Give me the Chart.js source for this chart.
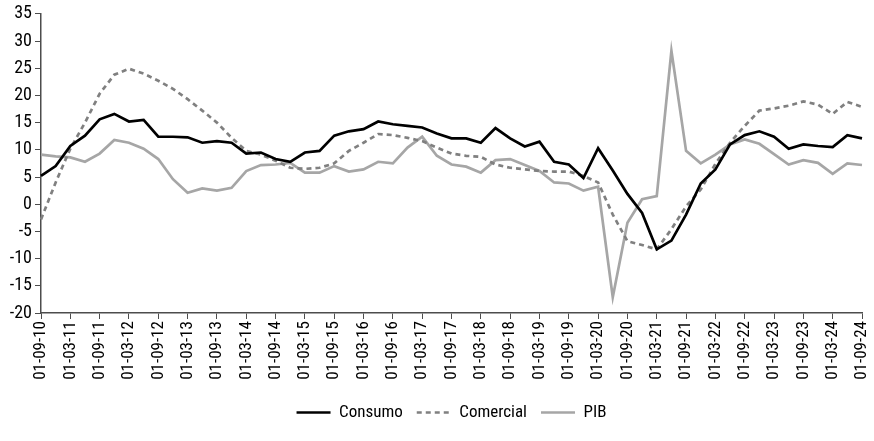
<!DOCTYPE html>
<html>
<head>
<meta charset="utf-8">
<script src="https://cdn.jsdelivr.net/npm/chart.js@4.4.1/dist/chart.umd.min.js"></script>
<style>
  html, body { margin: 0; padding: 0; background: #fff; }
  #wrap { width: 874px; height: 441px; }
</style>
</head>
<body>
<div id="wrap"><canvas id="grafico"></canvas></div>
<script>
// Trimestres (dd-mm-aa)
const fechas = [
  '01-09-10','01-12-10',
  '01-03-11','01-06-11','01-09-11','01-12-11',
  '01-03-12','01-06-12','01-09-12','01-12-12',
  '01-03-13','01-06-13','01-09-13','01-12-13',
  '01-03-14','01-06-14','01-09-14','01-12-14',
  '01-03-15','01-06-15','01-09-15','01-12-15',
  '01-03-16','01-06-16','01-09-16','01-12-16',
  '01-03-17','01-06-17','01-09-17','01-12-17',
  '01-03-18','01-06-18','01-09-18','01-12-18',
  '01-03-19','01-06-19','01-09-19','01-12-19',
  '01-03-20','01-06-20','01-09-20','01-12-20',
  '01-03-21','01-06-21','01-09-21','01-12-21',
  '01-03-22','01-06-22','01-09-22','01-12-22',
  '01-03-23','01-06-23','01-09-23','01-12-23',
  '01-03-24','01-06-24','01-09-24'
];

// Variación anual (%)
const consumo = [
  5.2, 7.0, 10.7, 12.6, 15.6, 16.6, 15.2, 15.5, 12.4, 12.4,
  12.3, 11.3, 11.6, 11.3, 9.3, 9.5, 8.3, 7.8, 9.5, 9.8,
  12.6, 13.4, 13.8, 15.2, 14.7, 14.4, 14.1, 13.0, 12.1, 12.1,
  11.3, 14.0, 12.1, 10.6, 11.5, 7.8, 7.3, 4.8, 10.3, 6.2,
  1.9, -1.6, -8.3, -6.7, -1.9, 3.8, 6.4, 11.0, 12.7, 13.4,
  12.4, 10.2, 11.0, 10.7, 10.5, 12.7, 12.1
];
const comercial = [
  -2.8, 4.0, 10.2, 15.0, 20.3, 23.8, 24.9, 24.0, 22.7, 21.2,
  19.3, 17.2, 15.0, 12.2, 9.8, 9.1, 8.0, 6.7, 6.5, 6.7,
  7.5, 9.8, 11.3, 12.9, 12.7, 12.2, 11.6, 10.4, 9.3, 8.9,
  8.7, 7.3, 6.7, 6.4, 6.1, 6.0, 6.0, 5.2, 4.0, -1.9,
  -6.8, -7.5, -8.3, -4.6, -0.4, 2.7, 7.4, 11.3, 14.4, 17.2,
  17.6, 18.1, 18.9, 18.3, 16.6, 18.8, 17.9
];
const pib = [
  9.1, 8.8, 8.6, 7.8, 9.3, 11.8, 11.3, 10.2, 8.3, 4.6,
  2.1, 2.9, 2.5, 3.0, 6.1, 7.2, 7.3, 7.6, 5.8, 5.8,
  7.0, 6.0, 6.4, 7.8, 7.5, 10.4, 12.4, 8.9, 7.3, 6.9,
  5.8, 8.1, 8.3, 7.2, 6.1, 4.0, 3.8, 2.5, 3.2, -17.1,
  -3.4, 0.9, 1.5, 28.2, 9.8, 7.5, 9.1, 11.0, 11.9, 11.1,
  9.2, 7.3, 8.1, 7.6, 5.6, 7.5, 7.2
];

// "condensed" entra en la cadena de fuente como font-stretch
const fuente = "'Roboto Condensed', 'Open Sans Condensed', Roboto, sans-serif";
const estrecha = 'condensed';
const colorEje = '#4d4d4d';
const grosor = 2.7;

// la leyenda va centrada bajo el área del gráfico, no bajo todo el lienzo
const centrarLeyenda = {
  id: 'centrarLeyenda',
  afterLayout(chart) {
    const lg = chart.legend;
    const area = chart.chartArea;
    const dx = (area.left + area.right) / 2 - (lg.left + lg.right) / 2;
    lg.left += dx;
    lg.right += dx;
  }
};

new Chart(document.getElementById('grafico'), {
  type: 'line',
  data: {
    labels: fechas,
    datasets: [
      { label: 'Consumo', data: consumo, borderColor: '#000000', backgroundColor: '#000000',
        borderWidth: grosor, pointRadius: 0, tension: 0 },
      { label: 'Comercial', data: comercial, borderColor: '#808080', backgroundColor: '#808080',
        borderWidth: grosor, borderDash: [5, 4], pointRadius: 0, tension: 0 },
      { label: 'PIB', data: pib, borderColor: '#a6a6a6', backgroundColor: '#a6a6a6',
        borderWidth: grosor, pointRadius: 0, tension: 0 }
    ]
  },
  options: {
    responsive: true,
    maintainAspectRatio: false,
    animation: false,
    layout: { padding: { top: 13, right: 12, left: 0, bottom: 10 } },
    plugins: {
      tooltip: { enabled: false },
      legend: {
        position: 'bottom',
        labels: {
          usePointStyle: true,
          pointStyle: 'line',
          pointStyleWidth: 34,
          boxHeight: 10,
          padding: 14,
          color: '#000',
          font: { family: fuente, weight: estrecha, size: 17 },
          // con usePointStyle el trazo discontinuo no pasa solo a la leyenda
          generateLabels: chart => chart.data.datasets.map((ds, i) => ({
            text: ds.label,
            datasetIndex: i,
            fillStyle: ds.borderColor,
            strokeStyle: ds.borderColor,
            lineWidth: ds.borderWidth,
            lineDash: ds.borderDash || [],
            pointStyle: 'line',
            fontColor: '#000',
            hidden: false
          }))
        }
      }
    },
    scales: {
      x: {
        offset: false,
        afterBuildTicks: s => { s.ticks = s.ticks.filter(t => t.value % 2 === 0); },
        afterFit: s => { s.height = 77; s.paddingLeft = 0; s.paddingRight = 0; },
        grid: { drawOnChartArea: false, drawTicks: true, tickLength: 6, color: colorEje },
        border: { color: colorEje, width: 1.5 },
        ticks: { autoSkip: false, minRotation: 90, maxRotation: 90, padding: 2,
                 color: '#000', font: { family: fuente, weight: estrecha, size: 17 } }
      },
      y: {
        min: -20,
        max: 35,
        afterFit: s => { s.width = 41; },
        grid: { drawOnChartArea: false, drawTicks: true, tickLength: 6, color: colorEje },
        border: { color: colorEje, width: 1.5 },
        ticks: { stepSize: 5, padding: 3, color: '#000',
                 font: { family: fuente, weight: estrecha, size: 18 } }
      }
    }
  },
  plugins: [centrarLeyenda]
});
</script>
</body>
</html>
